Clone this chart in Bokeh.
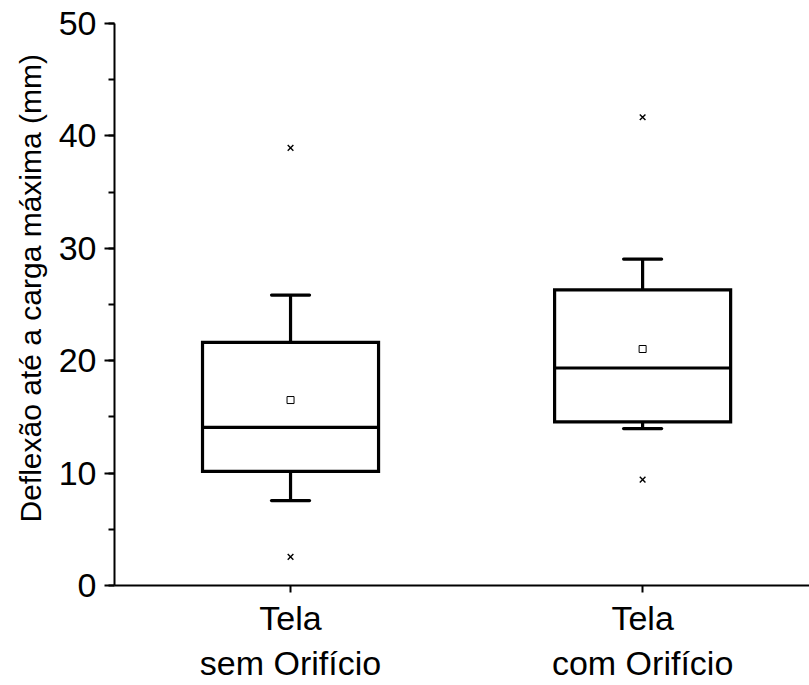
from bokeh.plotting import figure
from bokeh.models import FixedTicker, SingleIntervalTicker, Range1d, Title
from bokeh.embed import file_html
from bokeh.resources import INLINE

# ---- data ----
categories = ["Tela\nsem Orifício", "Tela\ncom Orifício"]
q1 = [10.16, 14.55]
median = [14.07, 19.35]
q3 = [21.63, 26.31]
whisker_low = [7.56, 13.96]
whisker_high = [25.84, 29.04]
mean = [16.5, 21.04]
outlier_low = [2.55, 9.42]
outlier_high = [38.93, 41.66]

xs = [i + 1 for i in range(len(categories))]
BOX_HALF = 0.25
CAP_HALF = 0.054
FONT = "Liberation Sans"

p = figure(width=809, height=685, output_backend="svg", toolbar_location=None,
           x_range=Range1d(0.5, 2.474), y_range=Range1d(0, 50),
           min_border_left=114, min_border_top=23, min_border_right=0,
           min_border_bottom=0)
p.outline_line_color = None
p.xgrid.visible = False
p.ygrid.visible = False
p.background_fill_color = "white"
p.border_fill_color = "white"

# boxes
p.quad(left=[x - BOX_HALF for x in xs], right=[x + BOX_HALF for x in xs],
       bottom=q1, top=q3, fill_color=None, line_color="black", line_width=3.2,
       line_join="miter")
# medians
p.segment(x0=[x - BOX_HALF for x in xs], x1=[x + BOX_HALF for x in xs],
          y0=median, y1=median, line_color="black", line_width=3.2)
# whisker stems
p.segment(x0=xs, x1=xs, y0=q3, y1=whisker_high, line_color="black", line_width=3.2)
p.segment(x0=xs, x1=xs, y0=q1, y1=whisker_low, line_color="black", line_width=3.2)
# caps
p.segment(x0=[x - CAP_HALF for x in xs], x1=[x + CAP_HALF for x in xs],
          y0=whisker_high, y1=whisker_high, line_color="black", line_width=3.2,
          line_cap="round")
p.segment(x0=[x - CAP_HALF for x in xs], x1=[x + CAP_HALF for x in xs],
          y0=whisker_low, y1=whisker_low, line_color="black", line_width=3.2,
          line_cap="round")
# means
p.scatter(x=xs, y=mean, marker="square", size=7, fill_color="white",
          line_color="black", line_width=1)
# outliers
p.scatter(x=xs, y=outlier_low, marker="x", size=8, line_color="black", line_width=1.4)
p.scatter(x=xs, y=outlier_high, marker="x", size=8, line_color="black", line_width=1.4)

# x axis
xa = p.xaxis[0]
xa.ticker = FixedTicker(ticks=xs)
xa.major_label_overrides = {x: c for x, c in zip(xs, categories)}
xa.major_label_text_font = FONT
xa.major_label_text_font_size = "34px"
xa.major_label_text_color = "black"
xa.major_label_text_line_height = 1.2
xa.major_label_standoff = 6
xa.major_tick_out = 7
xa.major_tick_in = 0
xa.minor_tick_out = 0
xa.axis_line_width = 2
xa.major_tick_line_width = 2
xa.axis_line_color = "black"

# y axis
ya = p.yaxis[0]
ya.ticker = SingleIntervalTicker(interval=10, num_minor_ticks=2)
ya.major_label_text_font = FONT
ya.major_label_text_font_size = "34px"
ya.major_label_text_color = "black"
ya.major_label_standoff = 8
ya.major_tick_out = 10
ya.major_tick_in = 0
ya.minor_tick_out = 6
ya.minor_tick_in = 0
ya.axis_line_width = 2
ya.major_tick_line_width = 2
ya.minor_tick_line_width = 2
ya.axis_line_color = "black"

ytitle = Title(text="Deflexão até a carga máxima (mm)", align="left", offset=63,
               text_font=FONT, text_font_size="30px",
               text_font_style="normal", text_color="black", standoff=17)
p.add_layout(ytitle, "left")

open("out.html", "w").write(file_html(p, INLINE))
